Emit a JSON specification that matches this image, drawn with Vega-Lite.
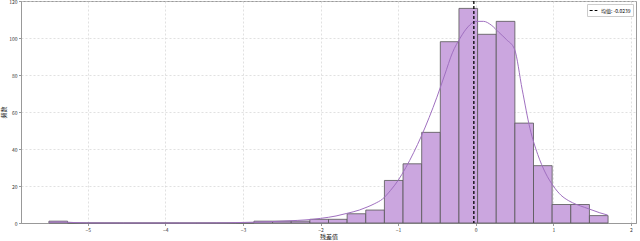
{
  "$schema": "https://vega.github.io/schema/vega-lite/v6.json",
  "width": 615,
  "height": 222,
  "autosize": {"type": "none"},
  "padding": {"left": 21, "top": 1, "right": 4, "bottom": 18},
  "background": "white",
  "config": {
    "font": "Noto Sans CJK SC",
    "view": {"stroke": "#999999", "strokeWidth": 1},
    "axis": {
      "labelFontSize": 5,
      "labelColor": "#333333",
      "titleFontSize": 6,
      "titleFontWeight": "normal",
      "titleColor": "#222222",
      "domainColor": "#999999",
      "tickColor": "#999999",
      "tickSize": 2.5,
      "labelPadding": 1.5,
      "labelOverlap": false,
      "labelFlush": false,
      "gridColor": "#d4d4d4",
      "gridDash": [2, 2],
      "gridWidth": 0.7
    }
  },
  "datasets": {
    "bins": [
      {"b0": -5.5, "b1": -5.2598, "count": 1},
      {"b0": -5.2598, "b1": -5.0196, "count": 0},
      {"b0": -5.0196, "b1": -4.7794, "count": 0},
      {"b0": -4.7794, "b1": -4.5392, "count": 0},
      {"b0": -4.5392, "b1": -4.299, "count": 0},
      {"b0": -4.299, "b1": -4.0588, "count": 0},
      {"b0": -4.0588, "b1": -3.8186, "count": 0},
      {"b0": -3.8186, "b1": -3.5784, "count": 0},
      {"b0": -3.5784, "b1": -3.3382, "count": 0},
      {"b0": -3.3382, "b1": -3.098, "count": 0},
      {"b0": -3.098, "b1": -2.8578, "count": 0},
      {"b0": -2.8578, "b1": -2.6176, "count": 1},
      {"b0": -2.6176, "b1": -2.3774, "count": 1},
      {"b0": -2.3774, "b1": -2.1372, "count": 1},
      {"b0": -2.1372, "b1": -1.897, "count": 2},
      {"b0": -1.897, "b1": -1.6568, "count": 2},
      {"b0": -1.6568, "b1": -1.4166, "count": 5},
      {"b0": -1.4166, "b1": -1.1764, "count": 7},
      {"b0": -1.1764, "b1": -0.9362, "count": 23},
      {"b0": -0.9362, "b1": -0.696, "count": 32},
      {"b0": -0.696, "b1": -0.4558, "count": 49},
      {"b0": -0.4558, "b1": -0.2156, "count": 98},
      {"b0": -0.2156, "b1": 0.0246, "count": 116},
      {"b0": 0.0246, "b1": 0.2648, "count": 102},
      {"b0": 0.2648, "b1": 0.505, "count": 109},
      {"b0": 0.505, "b1": 0.7452, "count": 54},
      {"b0": 0.7452, "b1": 0.9854, "count": 31},
      {"b0": 0.9854, "b1": 1.2256, "count": 10},
      {"b0": 1.2256, "b1": 1.4658, "count": 10},
      {"b0": 1.4658, "b1": 1.706, "count": 4}
    ],
    "kde": [
      {"x": -5.5, "y": 0.4},
      {"x": -5.4, "y": 0.6},
      {"x": -5.3, "y": 0.5},
      {"x": -5.15, "y": 0.2},
      {"x": -5.0, "y": 0.05},
      {"x": -4.6, "y": 0.0},
      {"x": -3.6, "y": 0.0},
      {"x": -3.2, "y": 0.1},
      {"x": -3.0, "y": 0.3},
      {"x": -2.8, "y": 0.5},
      {"x": -2.6, "y": 0.8},
      {"x": -2.3, "y": 1.4},
      {"x": -2.1, "y": 2.0},
      {"x": -2.0, "y": 2.5},
      {"x": -1.8, "y": 3.8},
      {"x": -1.66, "y": 5.2},
      {"x": -1.5, "y": 7.0},
      {"x": -1.4, "y": 8.6},
      {"x": -1.3, "y": 10.5},
      {"x": -1.2, "y": 13.0},
      {"x": -1.1, "y": 17.5},
      {"x": -1.0, "y": 23.0},
      {"x": -0.9, "y": 30.0},
      {"x": -0.8, "y": 38.0},
      {"x": -0.7, "y": 47.0},
      {"x": -0.6, "y": 57.0},
      {"x": -0.5, "y": 68.0},
      {"x": -0.4, "y": 80.0},
      {"x": -0.3, "y": 92.0},
      {"x": -0.2, "y": 100.0},
      {"x": -0.1, "y": 106.0},
      {"x": 0.0, "y": 109.0},
      {"x": 0.1, "y": 109.0},
      {"x": 0.2, "y": 107.0},
      {"x": 0.3, "y": 103.0},
      {"x": 0.4, "y": 99.0},
      {"x": 0.5, "y": 94.0},
      {"x": 0.6, "y": 72.0},
      {"x": 0.7, "y": 51.0},
      {"x": 0.8, "y": 37.0},
      {"x": 0.9, "y": 27.0},
      {"x": 1.0, "y": 20.0},
      {"x": 1.1, "y": 15.0},
      {"x": 1.2, "y": 12.0},
      {"x": 1.3, "y": 10.0},
      {"x": 1.4, "y": 8.5},
      {"x": 1.5, "y": 7.0},
      {"x": 1.6, "y": 5.5},
      {"x": 1.7, "y": 4.3}
    ],
    "mean": [
      {"mean": -0.0239, "label": "均值: -0.0239"}
    ]
  },
  "encoding": {
    "x": {
      "type": "quantitative",
      "scale": {"domain": [-5.86, 2.066], "nice": false, "zero": false},
      "axis": {"values": [-5, -4, -3, -2, -1, 0, 1, 2], "title": "残差值", "titleAnchor": "middle", "titlePadding": 1, "format": "d"}
    },
    "y": {
      "type": "quantitative",
      "scale": {"domain": [0, 120], "nice": false, "zero": true},
      "axis": {"values": [0, 20, 40, 60, 80, 100, 120], "tickCount": 7, "labelOverlap": false, "title": "频数", "titlePadding": 2}
    }
  },
  "layer": [
    {
      "data": {"name": "bins"},
      "mark": {"type": "rect", "fill": "#cba6df", "stroke": "#555555", "strokeWidth": 0.8},
      "encoding": {
        "x": {"field": "b0", "type": "quantitative"},
        "x2": {"field": "b1"},
        "y": {"field": "count", "type": "quantitative"},
        "y2": {"datum": 0}
      }
    },
    {
      "data": {"name": "kde"},
      "mark": {"type": "line", "color": "#a070c0", "strokeWidth": 1, "interpolate": "monotone"},
      "encoding": {
        "x": {"field": "x", "type": "quantitative"},
        "y": {"field": "y", "type": "quantitative"}
      }
    },
    {
      "data": {"name": "mean"},
      "mark": {"type": "rule", "strokeWidth": 1.3},
      "encoding": {
        "x": {"field": "mean", "type": "quantitative"},
        "y": null,
        "color": {
          "field": "label", "type": "nominal",
          "scale": {"range": ["black"]},
          "legend": {
            "title": null,
            "orient": "top-right",
            "offset": 3,
            "labelFontSize": 5,
            "symbolType": "stroke",
            "symbolSize": 60,
            "symbolStrokeWidth": 1.2,
            "symbolDash": [2, 1.5],
            "strokeColor": "#cccccc",
            "fillColor": "white",
            "padding": 2,
            "labelOffset": 3
          }
        },
        "strokeDash": {
          "field": "label", "type": "nominal",
          "scale": {"range": [[3, 2]]},
          "legend": null
        }
      }
    }
  ]
}
